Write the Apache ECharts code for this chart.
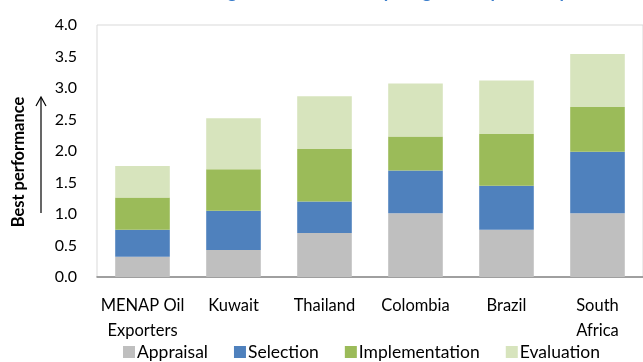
<!DOCTYPE html>
<html>
<head>
<meta charset="utf-8">
<script src="https://cdn.jsdelivr.net/npm/echarts@6/dist/echarts.min.js"></script>
<style>
  html, body { margin: 0; padding: 0; background: #fff; }
  #chart { width: 643px; height: 362px; }
</style>
</head>
<body>
<div id="chart"></div>
<script>
// Countries compared
const categories = ['MENAP Oil\nExporters', 'Kuwait', 'Thailand', 'Colombia', 'Brazil', 'South\nAfrica'];

// Score contributed by each stage (stacked)
const appraisal      = [0.32, 0.43, 0.70, 1.01, 0.75, 1.01];
const selection      = [0.43, 0.62, 0.50, 0.68, 0.70, 0.98];
const implementation = [0.51, 0.66, 0.83, 0.54, 0.82, 0.71];
const evaluation     = [0.50, 0.81, 0.84, 0.84, 0.85, 0.84];

const yTicks = { min: 0, max: 4, interval: 0.5 };

const FONT = 'Lato';
const chart = echarts.init(document.getElementById('chart'), null, { renderer: 'canvas' });

function stage(name, data, color) {
  return {
    name: name,
    type: 'bar',
    stack: 'total',
    data: data,
    barCategoryGap: '40%',
    itemStyle: { color: color },
    emphasis: { disabled: true }
  };
}

chart.setOption({
  animation: false,
  title: {
    text: 'Ranking in Each Element by Stage and by Country',
    left: 168,
    top: -23,
    textStyle: { fontFamily: FONT, fontSize: 19, fontWeight: 'bold', fontStyle: 'italic', color: '#3d7fcc' }
  },
  grid: {
    left: 97, top: 25, right: -12, bottom: 85,
    show: true, borderColor: '#d9d9d9', borderWidth: 1, containLabel: false
  },
  legend: {
    bottom: -4,
    left: 118,
    itemWidth: 12,
    itemHeight: 12,
    itemGap: 26,
    icon: 'rect',
    textStyle: { fontFamily: FONT, fontSize: 17.5, color: '#000', padding: [0, 0, 0, -3] },
    data: ['Appraisal', 'Selection', 'Implementation', 'Evaluation']
  },
  xAxis: {
    type: 'category',
    data: categories,
    axisLine: { lineStyle: { color: '#868686', width: 1.5 } },
    axisTick: { show: false },
    axisLabel: { fontFamily: FONT, fontSize: 16.5, color: '#000', lineHeight: 25, margin: 16, interval: 0 }
  },
  yAxis: {
    type: 'value',
    min: yTicks.min, max: yTicks.max, interval: yTicks.interval,
    axisLine: { show: false },
    axisTick: { show: false },
    splitLine: { show: false },
    axisLabel: {
      fontFamily: FONT, fontSize: 16, color: '#000', margin: 20,
      formatter: v => v.toFixed(1)
    }
  },
  graphic: [
    {
      type: 'text',
      x: 19, y: 162, rotation: Math.PI / 2,
      style: {
        text: 'Best performance', fontFamily: FONT, fontSize: 16.5, fontWeight: 'bold',
        fill: '#000', align: 'center', verticalAlign: 'middle'
      }
    },
    {
      type: 'line',
      shape: { x1: 41, y1: 213, x2: 41, y2: 98 },
      style: { stroke: '#000', lineWidth: 1.2 }
    },
    {
      type: 'polyline',
      shape: { points: [[36, 106], [41, 97], [46, 106]] },
      style: { stroke: '#000', lineWidth: 1.2, fill: null }
    }
  ],
  series: [
    stage('Appraisal', appraisal, '#bfbfbf'),
    stage('Selection', selection, '#4f81bd'),
    stage('Implementation', implementation, '#9bbb59'),
    stage('Evaluation', evaluation, '#d7e4bd')
  ]
});
</script>
</body>
</html>
